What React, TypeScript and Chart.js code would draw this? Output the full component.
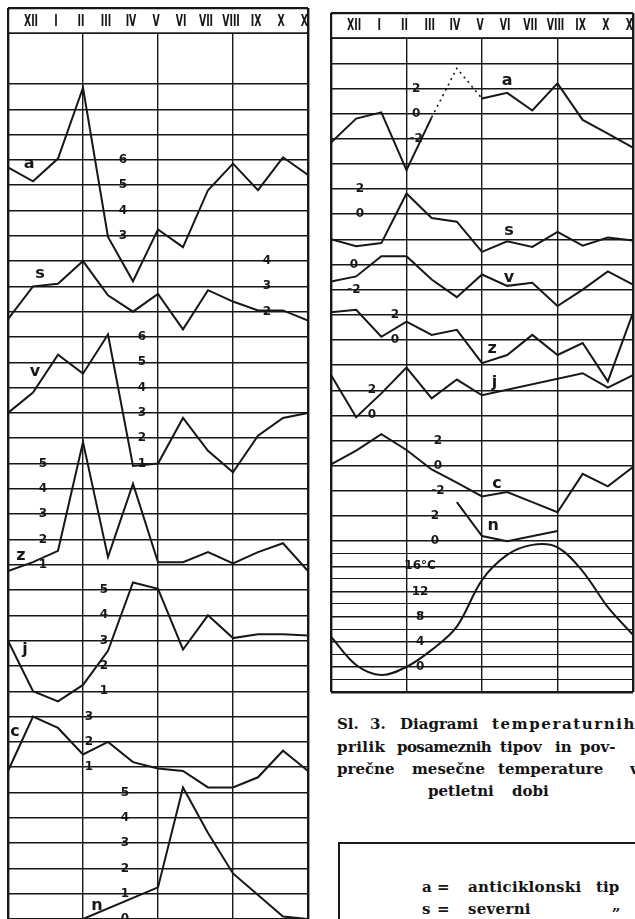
import React, { useEffect, useRef } from 'react';
import { Chart, registerables } from 'chart.js';

Chart.register(...registerables);

// x index 0 = XI of the previous year (left edge of each panel), 1..12 = XII .. XI
const MONTHS = ['XII', 'I', 'II', 'III', 'IV', 'V', 'VI', 'VII', 'VIII', 'IX', 'X', 'XI'];
const X_IDX = [0, 1, 2, 3, 4, 5, 6, 7, 8, 9, 10, 11, 12];
const VLINES = [0, 3, 6, 9, 12];

// ---- Left panel (monthly values of each weather type) ----
const L_A = [5.7, 5.15, 6.05, 8.85, 2.95, 1.2, 3.25, 2.55, 4.8, 5.85, 4.8, 6.1, 5.4];
const L_S = [1.7, 3.0, 3.1, 4.0, 2.65, 2.0, 2.7, 1.3, 2.85, 2.4, 2.05, 2.05, 1.65];
const L_V = [3.0, 3.8, 5.3, 4.55, 6.1, 0.9, 1.0, 2.8, 1.5, 0.65, 2.1, 2.8, 3.0];
const L_Z = [0.75, 1.1, 1.55, 5.85, 1.3, 4.2, 1.1, 1.1, 1.5, 1.05, 1.5, 1.85, 0.75];
const L_J = [3.0, 1.0, 0.6, 1.25, 2.6, 5.3, 5.05, 2.65, 4.0, 3.1, 3.25, 3.25, 3.2];
const L_C = [0.85, 3.0, 2.55, 1.5, 2.0, 1.2, 0.95, 0.85, 0.2, 0.2, 0.6, 1.65, 0.85];
const L_N = [null, null, null, 0, null, null, 1.25, 5.2, 3.4, 1.8, 0.95, 0.1, 0];

// ---- Right panel (temperature deviations and mean monthly temperature) ----
const R_A = [-2.3, -0.4, 0.1, -4.5, -0.3, 3.6, 1.2, 1.65, 0.25, 2.4, -0.5, -1.6, -2.7];
const R_S = [-2.0, -2.55, -2.3, 1.65, -0.3, -0.6, -3.0, -2.15, -2.6, -1.4, -2.5, -1.85, -2.1];
const R_V = [-1.35, -0.95, 0.65, 0.65, -1.2, -2.6, -0.8, -1.7, -1.45, -3.3, -2.0, -0.55, -1.6];
const R_Z = [2.2, 2.4, 0.25, 1.45, 0.4, 0.8, -1.85, -1.2, 0.4, -1.2, -0.25, -3.3, 2.15];
const R_J = [3.2, -0.15, 1.75, 3.8, 1.35, 2.85, 1.6, null, null, null, 3.35, 2.2, 3.2];
const R_C = [0.1, 1.2, 2.5, 1.25, -0.3, -1.35, -2.45, -2.1, -2.9, -3.7, -0.65, -1.65, -0.1];
const R_N = [null, null, null, null, null, 3.1, 0.4, 0.0, null, 0.8, null, null, null];
const R_T = [4.8, 0.3, -1.3, 0.0, 2.7, 6.4, 13.8, 17.8, 19.4, 19.0, 15.2, 9.5, 5.1];

// axis tick labels written inside the panels
const L_A_TICKS = [6, 5, 4, 3];
const L_S_TICKS = [4, 3, 2];
const L_V_TICKS = [6, 5, 4, 3, 2, 1];
const L_Z_TICKS = [5, 4, 3, 2, 1];
const L_J_TICKS = [5, 4, 3, 2, 1];
const L_C_TICKS = [3, 2, 1];
const L_N_TICKS = [5, 4, 3, 2, 1, 0];
const R_A_TICKS = [2, 0, -2];
const R_S_TICKS = [2, 0];
const R_V_TICKS = [0, -2];
const R_Z_TICKS = [2, 0];
const R_J_TICKS = [2, 0];
const R_C_TICKS = [2, 0, -2];
const R_N_TICKS = [2, 0];
const R_T_TICKS = [16, 12, 8, 4, 0];

const INK = '#171717';
const MONTH_FONT = 'bold 13px "DejaVu Sans Condensed", "DejaVu Sans", sans-serif';
const TICK_FONT = 'bold 12px "DejaVu Sans", sans-serif';
const NAME_FONT = 'bold 16px "DejaVu Sans", sans-serif';

type Series = {
  id: string;
  values: (number | null)[];
  base: number; // grid row of value 0
  per: number; // value units per grid row
  name: string;
  nameX: number;
  nameY: number;
  ticks: number[];
  tickX: number;
  tickText?: (v: number) => string;
  smooth?: boolean;
  dotted?: [number, number];
  span?: boolean;
};

type Panel = {
  uMin: number;
  uMax: number;
  halfFrom: number | null;
  skip: number[];
  padding: { left: number; right: number; top: number; bottom: number };
  series: Series[];
};

const LEFT_PANEL: Panel = {
  uMin: -1,
  uMax: 35,
  halfFrom: null,
  skip: [1],
  padding: { left: 8, right: 12, top: 8, bottom: 0 },
  series: [
    { id: 'yA', values: L_A, base: 11, per: 1, name: 'a', nameX: 0.85, nameY: 5.8, ticks: L_A_TICKS, tickX: 4.6 },
    { id: 'yS', values: L_S, base: 13, per: 1, name: 's', nameX: 1.28, nameY: 3.45, ticks: L_S_TICKS, tickX: 10.36 },
    { id: 'yV', values: L_V, base: 18, per: 1, name: 'v', nameX: 1.08, nameY: 4.6, ticks: L_V_TICKS, tickX: 5.36 },
    { id: 'yZ', values: L_Z, base: 22, per: 1, name: 'z', nameX: 0.52, nameY: 1.3, ticks: L_Z_TICKS, tickX: 1.4 },
    { id: 'yJ', values: L_J, base: 27, per: 1, name: 'j', nameX: 0.68, nameY: 2.6, ticks: L_J_TICKS, tickX: 3.84 },
    { id: 'yC', values: L_C, base: 30, per: 1, name: 'c', nameX: 0.28, nameY: 2.35, ticks: L_C_TICKS, tickX: 3.24 },
    { id: 'yN', values: L_N, base: 35, per: 1, name: 'n', nameX: 3.56, nameY: 0.47, ticks: L_N_TICKS, tickX: 4.68, span: true },
  ],
};

const RIGHT_PANEL: Panel = {
  uMin: -1,
  uMax: 26,
  halfFrom: 20,
  skip: [],
  padding: { left: 11, right: 2, top: 13, bottom: 8 },
  series: [
    { id: 'yA', values: R_A, base: 3, per: 2, name: 'a', nameX: 7.0, nameY: 2.5, ticks: R_A_TICKS, tickX: 3.38, dotted: [4, 6] },
    { id: 'yS', values: R_S, base: 7, per: 2, name: 's', nameX: 7.07, nameY: -1.4, ticks: R_S_TICKS, tickX: 1.15 },
    { id: 'yV', values: R_V, base: 9, per: 2, name: 'v', nameX: 7.07, nameY: -1.15, ticks: R_V_TICKS, tickX: 0.91 },
    { id: 'yZ', values: R_Z, base: 12, per: 2, name: 'z', nameX: 6.4, nameY: -0.75, ticks: R_Z_TICKS, tickX: 2.54 },
    { id: 'yJ', values: R_J, base: 15, per: 2, name: 'j', nameX: 6.5, nameY: 2.5, ticks: R_J_TICKS, tickX: 1.63, span: true },
    { id: 'yC', values: R_C, base: 17, per: 2, name: 'c', nameX: 6.6, nameY: -1.55, ticks: R_C_TICKS, tickX: 4.25 },
    { id: 'yN', values: R_N, base: 20, per: 2, name: 'n', nameX: 6.44, nameY: 1.1, ticks: R_N_TICKS, tickX: 4.13, span: true },
    {
      id: 'yT', values: R_T, base: 25, per: 4, name: '', nameX: 0, nameY: 0, ticks: R_T_TICKS, tickX: 3.54,
      tickText: (v: number) => (v === 16 ? '16°C' : String(v)), smooth: true,
    },
  ],
};

function decorPlugin(panel: Panel) {
  return {
    id: 'decor',
    beforeDatasetsDraw(chart: any) {
      const { ctx, chartArea: ca, scales } = chart;
      const y = scales.y;
      const x = scales.x;
      const yTop = y.getPixelForValue(panel.uMin);
      const yHead = y.getPixelForValue(0);
      ctx.save();
      ctx.fillStyle = '#ffffff';
      ctx.fillRect(ca.left + 1.5, yTop + 1.5, ca.right - ca.left - 3, yHead - yTop - 2.5);
      ctx.beginPath();
      ctx.rect(ca.left + 1, ca.top, ca.right - ca.left - 2, ca.bottom - ca.top);
      ctx.clip();
      ctx.fillStyle = INK;
      ctx.font = MONTH_FONT;
      ctx.textAlign = 'center';
      ctx.textBaseline = 'middle';
      MONTHS.forEach((m, i) => {
        ctx.save();
        ctx.translate(x.getPixelForValue(i + 1) - 2, (yTop + yHead) / 2 + 1);
        ctx.scale(0.8, 1.15);
        ctx.fillText(m, 0, 0);
        ctx.restore();
      });
      ctx.restore();
    },
    afterDatasetsDraw(chart: any) {
      const { ctx, chartArea: ca, scales } = chart;
      const x = scales.x;
      ctx.save();
      ctx.beginPath();
      ctx.rect(ca.left, ca.top, ca.right - ca.left, ca.bottom - ca.top);
      ctx.clip();
      ctx.fillStyle = INK;
      ctx.textAlign = 'center';
      ctx.textBaseline = 'middle';
      panel.series.forEach((s) => {
        const sc = scales[s.id];
        ctx.font = TICK_FONT;
        s.ticks.forEach((v) => {
          const t = s.tickText ? s.tickText(v) : String(v);
          ctx.fillText(t, x.getPixelForValue(s.tickX), sc.getPixelForValue(v));
        });
        if (s.name) {
          ctx.font = NAME_FONT;
          ctx.fillText(s.name, x.getPixelForValue(s.nameX), sc.getPixelForValue(s.nameY) - 1);
        }
      });
      ctx.restore();
    },
  };
}

function makeChart(canvas: HTMLCanvasElement, panel: Panel) {
  const yTicks: number[] = [];
  for (let u = panel.uMin; u <= panel.uMax + 1e-9; u += 0.5) {
    const isInt = Math.abs(u - Math.round(u)) < 1e-9;
    if (!isInt && (panel.halfFrom === null || u < panel.halfFrom)) continue;
    if (isInt && panel.skip.includes(Math.round(u))) continue;
    yTicks.push(u);
  }
  const scales: any = {
    x: {
      type: 'linear',
      min: 0,
      max: 12,
      ticks: { display: false },
      border: { display: false },
      grid: {
        drawTicks: false,
        color: (c: any) => (VLINES.includes(c.tick.value) ? INK : 'rgba(0,0,0,0)'),
        lineWidth: (c: any) => (c.tick.value === 0 || c.tick.value === 12 ? 2.4 : 1.4),
      },
      afterBuildTicks: (s: any) => {
        s.ticks = X_IDX.map((v) => ({ value: v }));
      },
    },
    y: {
      type: 'linear',
      axis: 'y',
      position: 'left',
      reverse: true,
      min: panel.uMin,
      max: panel.uMax,
      ticks: { display: false },
      border: { display: false },
      grid: {
        drawTicks: false,
        color: INK,
        lineWidth: (c: any) => {
          const v = c.tick.value;
          if (v === panel.uMin || v === panel.uMax) return 2.4;
          if (v === 0) return 2;
          return Math.abs(v - Math.round(v)) > 1e-9 ? 1.1 : 1.4;
        },
      },
      afterBuildTicks: (s: any) => {
        s.ticks = yTicks.map((v) => ({ value: v }));
      },
    },
  };
  panel.series.forEach((s) => {
    scales[s.id] = {
      type: 'linear',
      axis: 'y',
      position: 'left',
      display: false,
      min: s.per * (s.base - panel.uMax),
      max: s.per * (s.base - panel.uMin),
    };
  });
  const datasets = panel.series.map((s) => ({
    label: s.name || 't',
    yAxisID: s.id,
    data: s.values.map((v, i) => ({ x: X_IDX[i], y: v })),
    borderColor: INK,
    borderWidth: 2,
    pointRadius: 0,
    fill: false,
    tension: s.smooth ? 0.35 : 0,
    spanGaps: !!s.span,
    segment: s.dotted
      ? {
          borderDash: (c: any) =>
            c.p0DataIndex >= s.dotted![0] && c.p1DataIndex <= s.dotted![1] ? [2, 4] : undefined,
          borderWidth: (c: any) =>
            c.p0DataIndex >= s.dotted![0] && c.p1DataIndex <= s.dotted![1] ? 1.6 : undefined,
        }
      : undefined,
  }));
  return new Chart(canvas, {
    type: 'line',
    data: { datasets } as any,
    options: {
      animation: false,
      responsive: false,
      maintainAspectRatio: false,
      parsing: true,
      layout: { padding: panel.padding },
      plugins: { legend: { display: false }, tooltip: { enabled: false } },
      events: [],
      scales,
    } as any,
    plugins: [decorPlugin(panel)],
  });
}

const SERIF = 'bold 15px "DejaVu Serif", serif';

// [text, left, top, letter spacing]
const CAPTION_WORDS: [string, number, number, number][] = [
  ['Sl.', 337, 717, 0], ['3.', 370, 717, 0], ['Diagrami', 400, 717, 0], ['temperaturnih', 492, 717, 1.6],
  ['prilik', 337, 740, 0.4], ['posameznih', 397, 740, -0.6], ['tipov', 500, 740, 0], ['in', 555, 740, 0], ['pov-', 580, 740, 0],
  ['prečne', 337, 762, 0], ['mesečne', 412, 762, 0], ['temperature', 498, 762, 0], ['v', 630, 762, 0],
  ['petletni', 428, 784, 0], ['dobi', 512, 784, 0],
];

const LEGEND_WORDS: [string, number, number, number][] = [
  ['a', 422, 880, 0], ['=', 437, 880, 0], ['anticiklonski', 468, 880, 0.3], ['tip', 596, 880, 0],
  ['s', 422, 902, 0], ['=', 437, 902, 0], ['severni', 468, 902, 0.3], ['„', 612, 898, 0],
];

export default function App() {
  const leftRef = useRef<HTMLCanvasElement>(null);
  const rightRef = useRef<HTMLCanvasElement>(null);
  useEffect(() => {
    const c1 = makeChart(leftRef.current as HTMLCanvasElement, LEFT_PANEL);
    const c2 = makeChart(rightRef.current as HTMLCanvasElement, RIGHT_PANEL);
    return () => {
      c1.destroy();
      c2.destroy();
    };
  }, []);
  const word = (w: [string, number, number, number], k: number) => (
    <span
      key={k}
      style={{
        position: 'absolute',
        left: w[1],
        top: w[2],
        font: SERIF,
        lineHeight: '15px',
        letterSpacing: w[3] + 'px',
        whiteSpace: 'nowrap',
        color: '#141414',
      }}
    >
      {w[0]}
    </span>
  );
  return (
    <div
      style={{
        position: 'fixed',
        left: 0,
        top: 0,
        width: 635,
        height: 919,
        overflow: 'hidden',
        background: '#ffffff',
      }}
    >
      <canvas
        ref={leftRef}
        width={320}
        height={919}
        style={{ position: 'absolute', left: 0, top: 0, width: 320, height: 919 }}
      />
      <canvas
        ref={rightRef}
        width={315}
        height={700}
        style={{ position: 'absolute', left: 320, top: 0, width: 315, height: 700 }}
      />
      {CAPTION_WORDS.map(word)}
      <div
        style={{
          position: 'absolute',
          left: 338,
          top: 842,
          width: 320,
          height: 100,
          borderTop: '2px solid #1a1a1a',
          borderLeft: '2px solid #1a1a1a',
        }}
      />
      {LEGEND_WORDS.map(word)}
    </div>
  );
}
